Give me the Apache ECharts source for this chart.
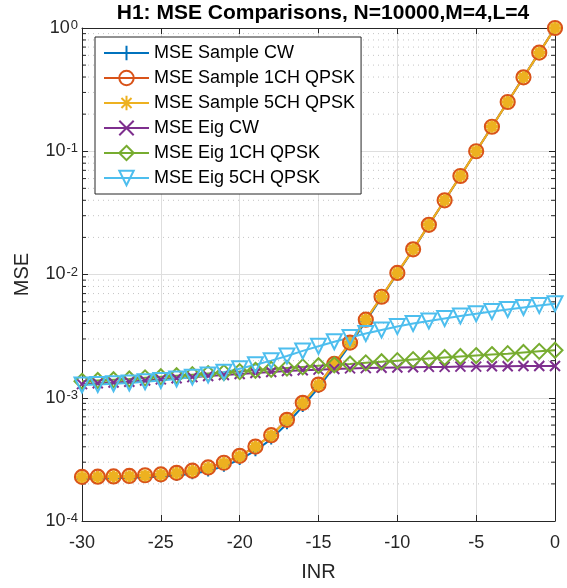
<!DOCTYPE html>
<html><head><meta charset="utf-8">
<script src="https://cdn.jsdelivr.net/npm/echarts@6/dist/echarts.min.js"></script>
<style>html,body{margin:0;padding:0;background:#fff}#c{width:567px;height:588px}</style>
</head><body><div id="c"></div>
<script>
// ---- data ----
const inr = [-30,-29,-28,-27,-26,-25,-24,-23,-22,-21,-20,-19,-18,-17,-16,-15,-14,-13,-12,-11,-10,-9,-8,-7,-6,-5,-4,-3,-2,-1,0];
const mseSampleCW = [2.20e-4,2.21e-4,2.22e-4,2.24e-4,2.26e-4,2.29e-4,2.34e-4,2.42e-4,2.55e-4,2.78e-4,3.15e-4,3.72e-4,4.62e-4,6.15e-4,8.5e-4,1.21e-3,1.79e-3,2.70e-3,4.18e-3,6.5e-3,1.02e-2,1.59e-2,2.52e-2,3.99e-2,6.3e-2,0.1,0.158,0.251,0.398,0.631,1.0];
const mseSample1CH = [2.28e-4,2.29e-4,2.30e-4,2.32e-4,2.35e-4,2.39e-4,2.46e-4,2.56e-4,2.72e-4,2.97e-4,3.38e-4,4.02e-4,4.97e-4,6.62e-4,9.1e-4,1.28e-3,1.88e-3,2.80e-3,4.30e-3,6.6e-3,1.03e-2,1.60e-2,2.53e-2,4.0e-2,6.3e-2,0.1,0.158,0.251,0.398,0.631,1.0];
const mseSample5CH = [2.27e-4,2.28e-4,2.30e-4,2.31e-4,2.34e-4,2.38e-4,2.45e-4,2.55e-4,2.70e-4,2.95e-4,3.36e-4,4.00e-4,4.95e-4,6.60e-4,9.05e-4,1.27e-3,1.87e-3,2.79e-3,4.29e-3,6.6e-3,1.03e-2,1.60e-2,2.53e-2,4.0e-2,6.31e-2,0.1,0.158,0.251,0.398,0.631,1.0];
const mseEigCW = [1.29e-3,1.31e-3,1.33e-3,1.35e-3,1.38e-3,1.41e-3,1.44e-3,1.47e-3,1.50e-3,1.53e-3,1.56e-3,1.59e-3,1.62e-3,1.65e-3,1.67e-3,1.69e-3,1.71e-3,1.73e-3,1.74e-3,1.75e-3,1.76e-3,1.77e-3,1.78e-3,1.78e-3,1.79e-3,1.79e-3,1.80e-3,1.80e-3,1.81e-3,1.81e-3,1.81e-3];
const mseEig1CH = [1.36e-3,1.38e-3,1.40e-3,1.42e-3,1.45e-3,1.48e-3,1.51e-3,1.54e-3,1.57e-3,1.60e-3,1.63e-3,1.67e-3,1.70e-3,1.74e-3,1.78e-3,1.82e-3,1.85e-3,1.88e-3,1.92e-3,1.96e-3,2.00e-3,2.04e-3,2.08e-3,2.12e-3,2.16e-3,2.20e-3,2.24e-3,2.28e-3,2.33e-3,2.38e-3,2.43e-3];
const mseEig5CH = [1.27e-3,1.28e-3,1.30e-3,1.32e-3,1.35e-3,1.38e-3,1.42e-3,1.47e-3,1.53e-3,1.61e-3,1.72e-3,1.85e-3,2.00e-3,2.18e-3,2.40e-3,2.62e-3,2.85e-3,3.08e-3,3.32e-3,3.55e-3,3.78e-3,4.00e-3,4.20e-3,4.40e-3,4.60e-3,4.80e-3,5.00e-3,5.20e-3,5.40e-3,5.60e-3,5.80e-3];
const seriesNames = ['MSE Sample CW','MSE Sample 1CH QPSK','MSE Sample 5CH QPSK','MSE Eig CW','MSE Eig 1CH QPSK','MSE Eig 5CH QPSK'];
const xTicks = {min:-30, max:0, interval:5};
const yRange = {min:1e-4, max:1};
const decades = [1e-4,1e-3,1e-2,1e-1];
const minorMult = [2,3,4,5,6,7,8,9];
const titleText = 'H1: MSE Comparisons, N=10000,M=4,L=4';

// ---- styling ----
const C = ['#0072BD','#D95319','#EDB120','#7E2F8E','#77AC30','#4DBEEE'];
const axisCol = '#262626';
const SYM = {
  plus: 'path://M5,0 L5,10 M0,5 L10,5',
  cross: 'path://M0,0 L10,10 M0,10 L10,0',
  star: 'path://M5,0 L5,10 M0,5 L10,5 M1.5,1.5 L8.5,8.5 M1.5,8.5 L8.5,1.5',
  diamond: 'path://M5,0 L10,5 L5,10 L0,5 Z',
  tri: 'path://M0,0 L10,0 L5,8.66 Z'
};
function pairs(vals){ return inr.map((x,i)=>[x, vals[i]]); }
function mk(name, vals, color, symbol, size, open, bw){
  return {
    name, type:'line', data: pairs(vals), symbol, symbolSize:size,
    showAllSymbol:true, z:3,
    lineStyle:{color, width:2},
    itemStyle:{color: open ? 'rgba(0,0,0,0)' : color, borderColor:color, borderWidth:bw || 2},
    emphasis:{disabled:true}
  };
}
const minorVals = [];
decades.forEach(d => minorMult.forEach(m => minorVals.push(d*m)));

const chart = echarts.init(document.getElementById('c'), null, {renderer:'canvas'});
const option = {
  animation:false,
  backgroundColor:'#fff',
  title:{text:titleText, left:318, textAlign:'center', top:-2,
    textStyle:{fontFamily:'Liberation Sans', fontSize:21, fontWeight:'bold', color:'#000'}},
  grid:{left:82, right:12, top:28, bottom:67},
  legend:{
    data:seriesNames, orient:'vertical', left:95, top:37,
    padding:[7,6,7,8], itemGap:7, itemWidth:45, itemHeight:18,
    backgroundColor:'#fff', borderColor:axisCol, borderWidth:1, borderRadius:0,
    textStyle:{fontFamily:'Liberation Sans', fontSize:18, color:'#000', lineHeight:18},
    selectedMode:false
  },
  xAxis:[
    {type:'value', min:xTicks.min, max:xTicks.max, interval:xTicks.interval, position:'bottom',
     name:'INR', nameLocation:'middle', nameGap:41,
     nameTextStyle:{fontFamily:'Liberation Sans', fontSize:20, color:axisCol},
     axisLine:{onZero:false, lineStyle:{color:axisCol, width:1}},
     axisTick:{inside:true, length:6, lineStyle:{color:axisCol}},
     axisLabel:{margin:13, fontFamily:'Liberation Sans', fontSize:18, color:axisCol},
     splitLine:{show:true, lineStyle:{color:'#dedede', width:1}}},
    {type:'value', min:xTicks.min, max:xTicks.max, interval:xTicks.interval, position:'top',
     axisLine:{onZero:false, lineStyle:{color:axisCol, width:1}},
     axisTick:{inside:true, length:6, lineStyle:{color:axisCol}},
     axisLabel:{show:false}, splitLine:{show:false}}
  ],
  yAxis:[
    {type:'log', logBase:10, min:yRange.min, max:yRange.max, position:'left',
     name:'MSE', nameLocation:'middle', nameGap:50,
     nameTextStyle:{fontFamily:'Liberation Sans', fontSize:20, color:axisCol},
     axisLine:{onZero:false, lineStyle:{color:axisCol, width:1}},
     axisTick:{inside:true, length:6, lineStyle:{color:axisCol}},
     axisLabel:{margin:4, color:axisCol,
       formatter:function(v){ const e=Math.round(Math.log10(v)); return '{b|10}{s|'+e+'}'; },
       rich:{
         b:{fontFamily:'Liberation Sans', fontSize:18, lineHeight:18, padding:[12,0,0,0], verticalAlign:'bottom', color:axisCol},
         s:{fontFamily:'Liberation Sans', fontSize:13, lineHeight:14, padding:[0,0,0,1], verticalAlign:'top', color:axisCol}
       }},
     splitLine:{show:true, lineStyle:{color:'#dedede', width:1}}},
    {type:'log', logBase:10, min:yRange.min, max:yRange.max, position:'right',
     axisLine:{onZero:false, lineStyle:{color:axisCol, width:1}},
     axisTick:{inside:true, length:6, lineStyle:{color:axisCol}},
     axisLabel:{show:false}, splitLine:{show:false}}
  ],
  series:[
    {type:'custom', name:'minor', z:1, silent:true, clip:true,
     data: minorVals.map(v=>[xTicks.min, v]),
     renderItem:function(params, api){
       const v = api.value(1);
       const p0 = api.coord([xTicks.min, v]);
       const p1 = api.coord([xTicks.max, v]);
       return {type:'group', children:[
         {type:'line', shape:{x1:p0[0]+1, y1:p0[1], x2:p1[0]-1, y2:p1[1]}, style:{stroke:'#c4c4c4', lineWidth:1, lineDash:[1,4]}},
         {type:'line', shape:{x1:p0[0], y1:p0[1], x2:p0[0]+4, y2:p0[1]}, style:{stroke:axisCol, lineWidth:1}},
         {type:'line', shape:{x1:p1[0]-4, y1:p1[1], x2:p1[0], y2:p1[1]}, style:{stroke:axisCol, lineWidth:1}}
       ]};
     }},
    mk(seriesNames[0], mseSampleCW, C[0], SYM.plus, 11, false),
    mk(seriesNames[1], mseSample1CH, C[1], 'circle', 14, true, 2.2),
    mk(seriesNames[2], mseSample5CH, C[2], SYM.star, 12, false, 3.5),
    mk(seriesNames[3], mseEigCW, C[3], SYM.cross, 10, false),
    mk(seriesNames[4], mseEig1CH, C[4], SYM.diamond, 15, true),
    mk(seriesNames[5], mseEig5CH, C[5], SYM.tri, 15, true)
  ]
};
chart.setOption(option);
</script>
</body></html>
